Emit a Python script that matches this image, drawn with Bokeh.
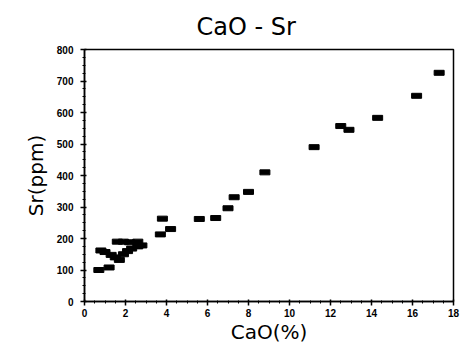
from bokeh.plotting import figure
from bokeh.models import ColumnDataSource, FixedTicker
from bokeh.embed import file_html
from bokeh.resources import INLINE

cao = [0.7, 1.2, 0.8, 1.0, 1.3, 1.5, 1.7, 1.6, 1.9, 2.2, 2.6, 1.9, 2.1, 2.3, 2.6, 2.8,
       3.7, 3.8, 4.2, 5.6, 6.4, 7.0, 7.3, 8.0, 8.8, 11.2, 12.5, 12.9, 14.3, 16.2, 17.3]
sr = [100, 108, 162, 157, 148, 140, 132, 190, 190, 188, 190, 150, 160, 168, 175, 178,
      213, 263, 230, 262, 265, 296, 331, 348, 410, 490, 557, 545, 583, 653, 726]
x_ticks = [0, 2, 4, 6, 8, 10, 12, 14, 16, 18]
y_ticks = [0, 100, 200, 300, 400, 500, 600, 700, 800]

src = ColumnDataSource(dict(x=cao, y=sr))

p = figure(width=460, height=347, x_range=(0, 18), y_range=(0, 800),
           output_backend="svg", toolbar_location=None,
           min_border_left=84, min_border_right=7, min_border_top=49, min_border_bottom=46,
           title="CaO - Sr")
p.title.align = "left"
p.title.offset = 112
p.title.text_font = "DejaVu Sans"
p.title.text_font_size = "24px"
p.title.text_font_style = "normal"
p.title.text_color = "black"
p.title.standoff = 17

p.rect(x="x", y="y", width=10, height=5, width_units="screen", height_units="screen",
       source=src, fill_color="black", line_color="black")

p.xgrid.visible = False
p.ygrid.visible = False
p.outline_line_color = "black"
p.outline_line_width = 1.5

for ax in (p.xaxis[0], p.yaxis[0]):
    ax.axis_line_color = "black"
    ax.axis_line_width = 1.5
    ax.major_tick_line_color = "black"
    ax.major_tick_line_width = 1.5
    ax.major_tick_out = 4
    ax.major_tick_in = 2
    ax.minor_tick_line_color = "black"
    ax.minor_tick_out = 2
    ax.minor_tick_in = 1
    ax.major_label_text_font = "Liberation Sans"
    ax.major_label_text_font_size = "10px"
    ax.major_label_text_font_style = "bold"
    ax.major_label_text_color = "black"
    ax.axis_label_text_font = "DejaVu Sans"
    ax.axis_label_text_font_size = "20px"
    ax.axis_label_text_font_style = "normal"
    ax.axis_label_text_color = "black"

p.xaxis.ticker = FixedTicker(ticks=x_ticks, minor_ticks=[i * 0.5 for i in range(37)])
p.yaxis.ticker = FixedTicker(ticks=y_ticks, minor_ticks=[i * 25 for i in range(33)])
p.xaxis.axis_label = "CaO(%)"
p.yaxis.axis_label = "Sr(ppm)"
p.xaxis.major_label_standoff = 3
p.yaxis.major_label_standoff = 7
p.xaxis.axis_label_standoff = 0
p.yaxis.axis_label_standoff = 6

open("out.html", "w").write(file_html(p, INLINE))
